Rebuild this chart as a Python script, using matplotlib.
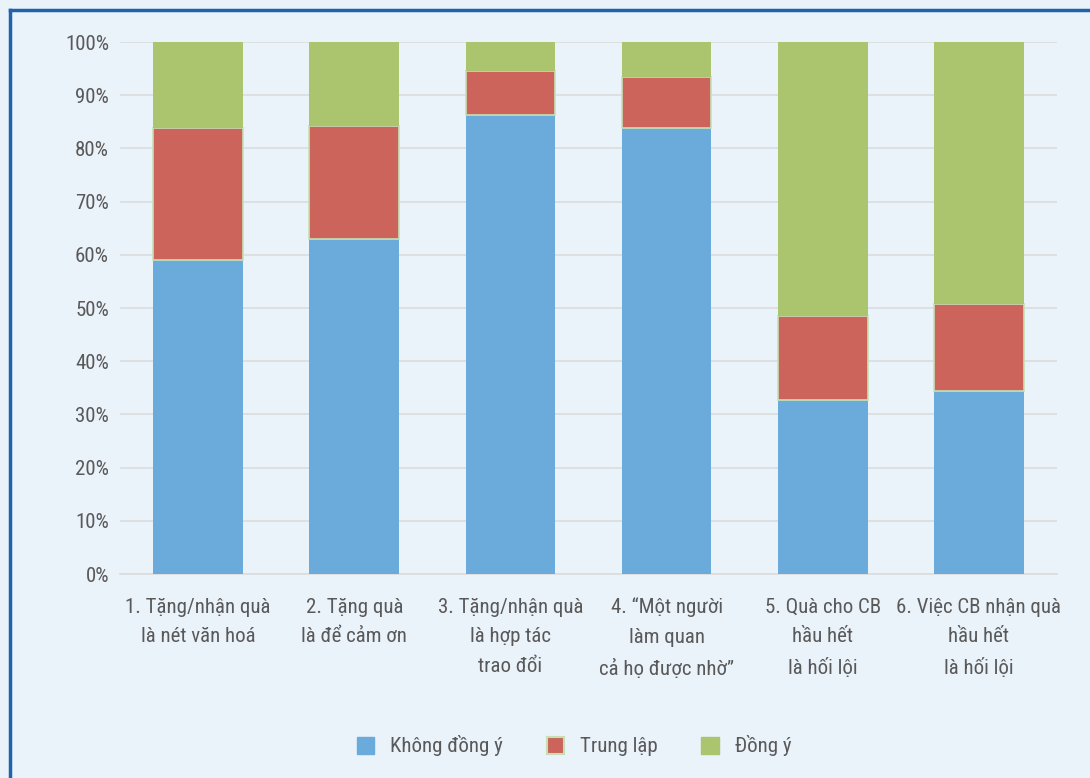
import matplotlib
matplotlib.use("Agg")
import matplotlib.pyplot as plt
from matplotlib.patches import Patch
from matplotlib import font_manager

fonts = font_manager.fontManager.ttflist
names = {f.name for f in fonts}
narrow = [n for n in ["Roboto Condensed", "Open Sans Condensed", "Liberation Sans Narrow"] if n in names]
if narrow:
    family = narrow[0]
    stretch = "normal"
else:
    family = "DejaVu Sans"
    stretch = "condensed"
plt.rcParams["font.family"] = [family, "DejaVu Sans"]
plt.rcParams["font.stretch"] = stretch

categories = [
    "1. Tặng/nhận quà\nlà nét văn hoá",
    "2. Tặng quà\nlà để cảm ơn",
    "3. Tặng/nhận quà\nlà hợp tác\ntrao đổi",
    "4. “Một người\nlàm quan\ncả họ được nhờ”",
    "5. Quà cho CB\nhầu hết\nlà hối lội",
    "6. Việc CB nhận quà\nhầu hết\nlà hối lội",
]
khong_dong_y = [59.0, 63.0, 86.3, 83.8, 32.7, 34.4]
trung_lap = [24.8, 21.2, 8.2, 9.6, 15.8, 16.4]
dong_y = [16.2, 15.8, 5.5, 6.6, 51.5, 49.2]
series_names = ["Không đồng ý", "Trung lập", "Đồng ý"]
yticks = [0, 10, 20, 30, 40, 50, 60, 70, 80, 90, 100]

bg = "#EAF2FA"
c_blue = "#6AABDB"
c_red = "#CC645C"
c_green = "#ABC46E"
edge = "#C5E0B4"
text_c = "#595959"
fs = 15

fig = plt.figure(figsize=(10.9, 7.78), dpi=100, facecolor=bg)
W, H = 1090, 778

# frame line along top and left
fig.add_artist(plt.Line2D([9.5 / W, 9.5 / W], [0, 1 - 9.5 / H], transform=fig.transFigure,
                          color="#1F64AA", lw=2.5))
fig.add_artist(plt.Line2D([9.5 / W, 1], [1 - 9.5 / H, 1 - 9.5 / H], transform=fig.transFigure,
                          color="#1F64AA", lw=2.5))

ax = fig.add_axes([120 / W, 1 - 574 / H, (1057 - 120) / W, (574 - 42) / H])
ax.set_facecolor(bg)

x = list(range(len(categories)))
width = 0.575
bottom2 = khong_dong_y
bottom3 = [a + b for a, b in zip(khong_dong_y, trung_lap)]
ax.bar(x, khong_dong_y, width, color=c_blue, label=series_names[0], zorder=3)
ax.bar(x, trung_lap, width, bottom=bottom2, color=c_red, edgecolor=edge, linewidth=1.2,
       label=series_names[1], zorder=3)
ax.bar(x, dong_y, width, bottom=bottom3, color=c_green, label=series_names[2], zorder=3)

ax.set_xlim(-0.5, len(categories) - 0.5)
ax.set_ylim(0, 100)
ax.set_yticks(yticks)
ax.set_yticklabels([f"{v}%" for v in yticks])
ax.yaxis.grid(True, color="#DCDCDC", lw=1.2, zorder=0)
ax.set_axisbelow(True)
for s in ["top", "right", "left"]:
    ax.spines[s].set_visible(False)
ax.spines["bottom"].set_color("#DCDCDC")
ax.spines["bottom"].set_linewidth(1.2)
ax.tick_params(axis="both", length=0, colors=text_c, labelsize=fs)
ax.tick_params(axis="y", pad=8)
ax.tick_params(axis="x", pad=17)
ax.set_xticks(x)
ax.set_xticklabels(categories, linespacing=1.72)

handles = [Patch(facecolor=c_blue, edgecolor=c_blue),
           Patch(facecolor=c_red, edgecolor=edge, linewidth=1.5),
           Patch(facecolor=c_green, edgecolor=c_green)]
leg = fig.legend(handles, series_names, loc="center", bbox_to_anchor=(574 / W, 1 - 746 / H),
                 ncol=3, frameon=False, fontsize=fs, handlelength=0.85, handleheight=0.85,
                 columnspacing=2.1, handletextpad=0.75)
for t in leg.get_texts():
    t.set_color(text_c)

fig.savefig("out.png", dpi=100, facecolor=bg)
